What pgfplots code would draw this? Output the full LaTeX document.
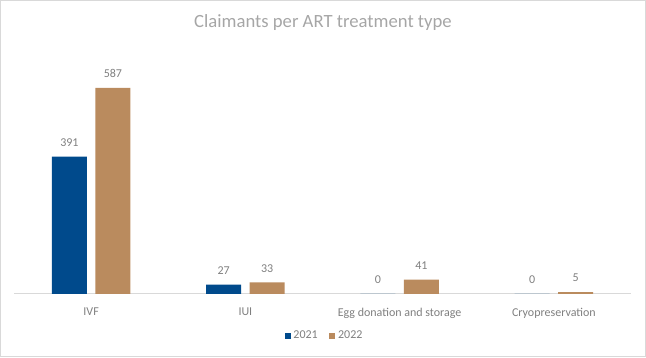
\documentclass[border=0pt]{standalone}
\usepackage{pgfplots}
\pgfplotsset{compat=1.18}
\usepackage{fontspec}
\setmainfont{Carlito}
\definecolor{blu}{HTML}{004A8C}
\definecolor{tanc}{HTML}{BA8B5E}
\definecolor{lab}{HTML}{7F7F7F}
\definecolor{ttl}{HTML}{A6A6A6}
\definecolor{frm}{HTML}{D9D9D9}
\begin{document}
\begin{tikzpicture}
\useasboundingbox (0,0) rectangle (484.5pt,267.75pt);
\draw[frm, line width=0.75pt] (0.375pt,0.375pt) rectangle (484.125pt,267.375pt);
\node[anchor=base, font=\fontsize{14}{16}\selectfont, text=ttl, inner sep=0pt] at (242.25pt,246.75pt) {Claimants per ART treatment type};
\begin{axis}[
  at={(10.5pt,47.25pt)}, anchor=south west,
  scale only axis, width=462.75pt, height=168.5pt,
  xmin=-0.5, xmax=3.5, ymin=0, ymax=640,
  enlargelimits=false, clip=false,
  ybar=6.375pt, bar width=26.25pt,
  axis x line=bottom, axis y line=none,
  x axis line style={draw=frm, line width=0.75pt, -},
  ytick=\empty,
  xtick={0,1,2,3},
  xticklabels={IVF, IUI, Egg donation and storage, Cryopreservation},
  xtick style={draw=none},
  xticklabel style={font=\fontsize{9}{11}\selectfont, text=lab, inner sep=0pt, anchor=north, yshift=-8.25pt},
  nodes near coords,
  every node near coord/.append style={font=\fontsize{9}{11}\selectfont, text=lab, inner sep=0pt, anchor=south, yshift=7.5pt},
  /pgf/number format/assume math mode=true,
  legend columns=2,
  legend style={draw=none, fill=none, at={(0.504,-0.187)}, anchor=center,
    font=\fontsize{9}{11}\selectfont, text=lab,
    /tikz/every even column/.append style={column sep=6.75pt}},
  legend image code/.code={\fill[#1] (0pt,-2.25pt) rectangle (4.5pt,2.25pt);},
]
\addplot[fill=blu, draw=none] coordinates {(0,391) (1,27) (2,0) (3,0)};
\addplot[fill=tanc, draw=none] coordinates {(0,587) (1,33) (2,41) (3,5)};
\legend{2021, 2022}
\end{axis}
\end{tikzpicture}
\end{document}
